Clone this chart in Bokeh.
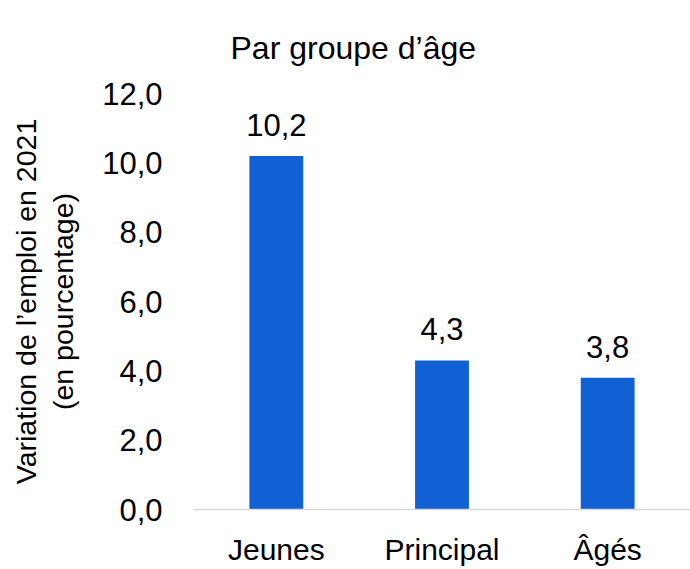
from bokeh.plotting import figure
from bokeh.models import ColumnDataSource, FixedTicker, CustomJSTickFormatter, LabelSet, Title
from bokeh.core.properties import value
from bokeh.embed import file_html
from bokeh.resources import INLINE

categories = ["Jeunes", "Principal", "Âgés"]
values = [10.2, 4.3, 3.8]
y_ticks = [0, 2, 4, 6, 8, 10, 12]
title_text = "Par groupe d’âge"
y_label = "Variation de l’emploi en 2021\n(en pourcentage)"

labels = [f"{v:.1f}".replace(".", ",") for v in values]
src = ColumnDataSource(dict(cat=categories, val=values, lab=labels))

FONT = "Liberation Sans"

p = figure(x_range=categories, y_range=(0, 12), width=690, height=569,
           output_backend="svg", toolbar_location=None,
           min_border_left=193, min_border_right=0, min_border_bottom=60, min_border_top=0)
p.title = None
t = Title(text=title_text, text_font=FONT, text_font_size="32px", text_font_style="normal",
          align="left", offset=37, text_color="black", standoff=55)
p.add_layout(t, "above")

p.vbar(x="cat", top="val", width=0.325, source=src, color="#1160D4", line_color=None)

p.add_layout(LabelSet(x="cat", y="val", text="lab", source=src, y_offset=20,
                      text_align="center", text_baseline="bottom",
                      text_font=value(FONT), text_font_size=value("31px"), text_color="black"))

p.xgrid.visible = False
p.ygrid.visible = False
p.outline_line_color = None
p.background_fill_color = "white"
p.border_fill_color = "white"

p.yaxis.ticker = FixedTicker(ticks=y_ticks)
p.yaxis.formatter = CustomJSTickFormatter(code="return tick.toFixed(1).replace('.', ',');")
p.yaxis.axis_line_color = None
p.yaxis.major_tick_line_color = None
p.yaxis.minor_tick_line_color = None
p.yaxis.major_tick_out = 0
p.yaxis.major_tick_in = 0
p.yaxis.major_label_standoff = 31
p.yaxis.major_label_text_font = FONT
p.yaxis.major_label_text_font_size = "31px"
p.yaxis.major_label_text_color = "black"
p.yaxis.axis_label = y_label
p.yaxis.axis_label_text_font = FONT
p.yaxis.axis_label_text_font_size = "28.5px"
p.yaxis.axis_label_text_font_style = "normal"
p.yaxis.axis_label_text_color = "black"
p.yaxis.axis_label_text_line_height = 1.15
p.yaxis.axis_label_standoff = 20

p.xaxis.axis_line_color = "#D9D9D9"
p.xaxis.axis_line_width = 1.5
p.xaxis.major_tick_line_color = None
p.xaxis.minor_tick_line_color = None
p.xaxis.major_tick_out = 0
p.xaxis.major_tick_in = 0
p.xaxis.major_label_standoff = 23
p.xaxis.major_label_text_font = FONT
p.xaxis.major_label_text_font_size = "30px"
p.xaxis.major_label_text_color = "black"

open("out.html", "w").write(file_html(p, INLINE))
